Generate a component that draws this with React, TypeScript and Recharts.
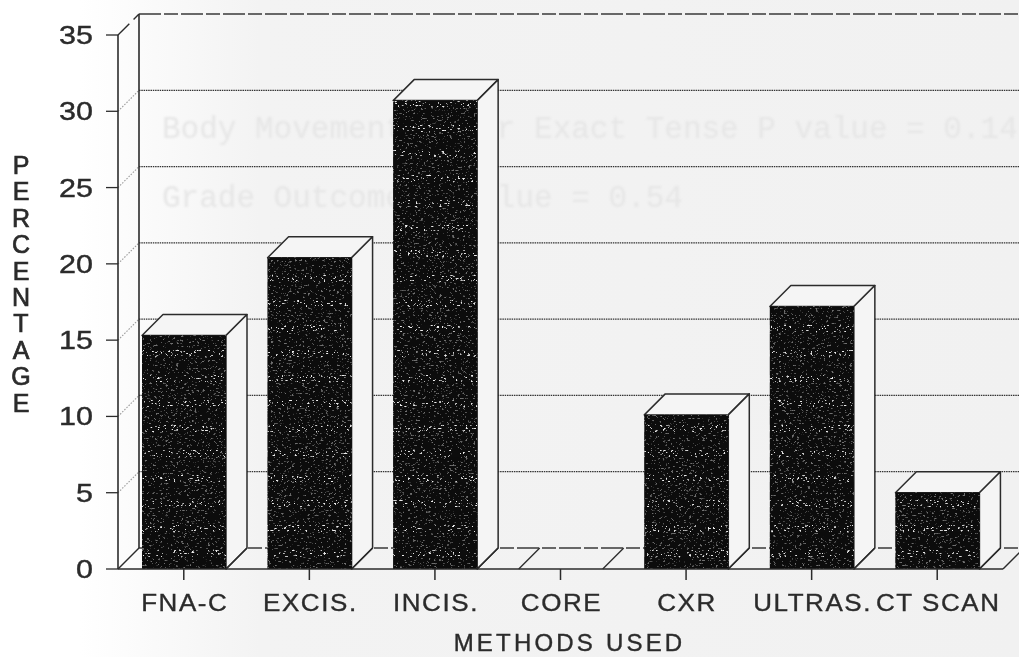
import * as React from "react";
import { BarChart, Bar, XAxis, YAxis, CartesianGrid } from "recharts";

const methods = ["FNA-C", "EXCIS.", "INCIS.", "CORE", "CXR", "ULTRAS.", "CT SCAN"];
const percentages = [15.3, 20.4, 30.7, 0, 10.1, 17.2, 5.0];
const percentTicks = [0, 5, 10, 15, 20, 25, 30, 35];
const yLetters = ["P", "E", "R", "C", "E", "N", "T", "A", "G", "E"];
const ghostLines = [
  "Body Movement Under Exact Tense P value = 0.14",
  "Grade Outcome P value = 0.54",
];

const chartData = methods.map((method, i) => ({ method, percentage: percentages[i] }));

const DEPTH = 21; // 3D offset of the back wall, same in x and y
const INK = "#2b2b2b";
const FONT = "'Liberation Sans', Arial, sans-serif";

function XTick({ x, y, payload }: any) {
  return (
    <text
      transform={`translate(${x + 1},${y + 29}) scale(1.13,1)`}
      textAnchor="middle"
      fontFamily={FONT}
      fontSize={23}
      letterSpacing={1.4}
      fill={INK}
      stroke={INK}
      strokeWidth={0.35}
    >
      {payload.value}
    </text>
  );
}

function YTick({ x, y, payload }: any) {
  return (
    <text
      transform={`translate(${x},${y + 9}) scale(1.22,1)`}
      textAnchor="end"
      fontFamily={FONT}
      fontSize={25}
      fill={INK}
      stroke={INK}
      strokeWidth={0.4}
    >
      {payload.value}
    </text>
  );
}

function StackedLabel() {
  return (
    <text fontFamily={FONT} fontSize={25} fill={INK} stroke={INK} strokeWidth={0.7} textAnchor="middle">
      {yLetters.map((letter, i) => (
        <tspan key={i} x={21} y={174 + i * 26.4}>
          {letter}
        </tspan>
      ))}
    </text>
  );
}

// one gridline per tick: slanted up the side wall, then along the back wall
function WallLine({ x1, x2, y1 }: any) {
  const isTop = y1 < 40;
  const isFloor = y1 > 560;
  const solid = isTop || isFloor;
  return (
    <g>
      <line
        x1={x1}
        y1={y1}
        x2={x1 + DEPTH}
        y2={y1 - DEPTH}
        stroke={solid ? INK : "#9a9a9a"}
        strokeWidth={solid ? 1.4 : 1.1}
        strokeDasharray={isTop ? "16 6" : solid ? undefined : "1.5 1.5"}
      />
      <line
        x1={x1 + DEPTH}
        y1={y1 - DEPTH}
        x2={x2 + DEPTH}
        y2={y1 - DEPTH}
        stroke={solid ? "#3a3a3a" : "#333333"}
        strokeWidth={solid ? 1.6 : 1.2}
        strokeDasharray={solid ? "22 3 14 3" : "1.5 0.8"}
      />
      {isTop && (
        <line x1={x1 + DEPTH} y1={y1 - DEPTH} x2={x1 + DEPTH} y2={y1 + 534 - DEPTH} stroke={INK} strokeWidth={1.6} />
      )}
      {isFloor && (
        <line x1={x2} y1={y1} x2={x2 + DEPTH} y2={y1 - DEPTH} stroke={INK} strokeWidth={1.4} />
      )}
    </g>
  );
}

function BoxBar({ x, y, width, height }: any) {
  const right = x + width;
  const bottom = y + height;
  if (!height) {
    // empty category still marks its footprint on the floor
    return (
      <g stroke={INK} strokeWidth={1.4}>
        <line x1={x} y1={bottom} x2={x + DEPTH} y2={bottom - DEPTH} />
        <line x1={right} y1={bottom} x2={right + DEPTH} y2={bottom - DEPTH} />
      </g>
    );
  }
  return (
    <g stroke={INK} strokeWidth={1.5} strokeLinejoin="round">
      <polygon
        points={`${x},${y} ${x + DEPTH},${y - DEPTH} ${right + DEPTH},${y - DEPTH} ${right},${y}`}
        fill="#f5f5f5"
      />
      <polygon
        points={`${right},${y} ${right + DEPTH},${y - DEPTH} ${right + DEPTH},${bottom - DEPTH} ${right},${bottom}`}
        fill="#f5f5f5"
      />
      <line x1={right} y1={bottom} x2={right + DEPTH} y2={bottom - DEPTH} />
      <rect x={x} y={y} width={width} height={height} fill="#0b0b0b" stroke="none" filter="url(#speckle)" />
      <rect x={x} y={y} width={width} height={height} fill="url(#scanBands)" stroke="none" />
    </g>
  );
}

export default function App() {
  return (
    <div
      style={{
        position: "absolute",
        left: 0,
        top: 0,
        width: 1019,
        height: 657,
        overflow: "hidden",
        background: "linear-gradient(90deg, #ffffff 0, #ffffff 80px, #f3f3f3 260px, #f1f1f1 100%)",
      }}
    >
      {ghostLines.map((line, i) => (
        <div
          key={i}
          style={{
            position: "absolute",
            left: 162,
            top: 112 + i * 69,
            fontFamily: "'Liberation Mono', monospace",
            fontSize: 31,
            color: "#e6e6e6",
            whiteSpace: "pre",
            filter: "blur(1.3px)",
          }}
        >
          {line}
        </div>
      ))}
      <div style={{ position: "absolute", inset: 0, filter: "blur(0.55px)" }}>
        <BarChart
          width={1019}
          height={657}
          data={chartData}
          margin={{ top: 35, right: 16, bottom: 0, left: 0 }}
        >
          <defs>
            <filter id="speckle" x="0" y="0" width="1" height="1">
              <feTurbulence type="fractalNoise" baseFrequency="0.38 0.6" numOctaves={2} seed={7} result="noise" />
              <feColorMatrix
                in="noise"
                type="matrix"
                values="0 0 0 0 0.85  0 0 0 0 0.85  0 0 0 0 0.85  9 0 0 0 -5.7"
                result="dots"
              />
              <feComposite in="dots" in2="SourceAlpha" operator="in" result="clipped" />
              <feMerge>
                <feMergeNode in="SourceGraphic" />
                <feMergeNode in="clipped" />
              </feMerge>
            </filter>
            {/* speckle is stronger in the gaps, like the photocopy's scan bands */}
            <pattern id="scanBands" patternUnits="userSpaceOnUse" x="0" y="19" width="84" height="25">
              <rect x="0" y="0" width="84" height="6" fill="#0b0b0b" fillOpacity={0.55} />
              <rect x="0" y="13" width="84" height="12" fill="#0b0b0b" fillOpacity={0.55} />
            </pattern>
          </defs>
          <CartesianGrid vertical={false} horizontal={(props: any) => <WallLine key={props.y1} {...props} />} />
          <XAxis
            dataKey="method"
            interval={0}
            height={88}
            padding={{ left: 3, right: 3 }}
            tick={<XTick />}
            tickSize={11}
            axisLine={{ stroke: INK, strokeWidth: 1.5 }}
            tickLine={{ stroke: INK, strokeWidth: 1.5 }}
            label={{
              value: "METHODS USED",
              position: "insideBottom",
              offset: 6,
              dx: 9,
              style: { fontFamily: FONT, fontSize: 24, letterSpacing: 3.2, fill: INK, stroke: INK, strokeWidth: 0.4 },
            }}
          />
          <YAxis
            domain={[0, 35]}
            ticks={percentTicks}
            width={118}
            tick={<YTick />}
            tickSize={12}
            tickMargin={13}
            interval={0}
            axisLine={{ stroke: INK, strokeWidth: 1.6 }}
            tickLine={{ stroke: INK, strokeWidth: 1.3 }}
            label={{ content: <StackedLabel /> }}
          />
          <Bar dataKey="percentage" barSize={84} shape={<BoxBar />} isAnimationActive={false} />
        </BarChart>
      </div>
    </div>
  );
}
